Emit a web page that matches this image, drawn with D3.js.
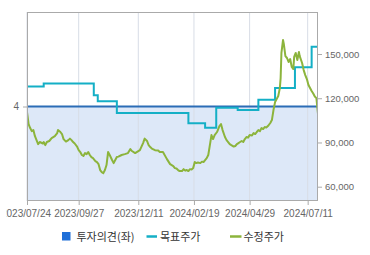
<!DOCTYPE html>
<html><head><meta charset="utf-8">
<script src="https://cdn.jsdelivr.net/npm/d3@7"></script>
<style>body{margin:0;background:#fff}svg{display:block}</style>
</head><body><svg id="c" width="370" height="255"></svg>
<script>
const xTickLabels = ["2023/07/24","2023/09/27","2023/12/11","2024/02/19","2024/04/29","2024/07/11"];
const rightTicks = [60000, 90000, 120000, 150000];
const leftTicks = [4];
const legendLabels = ["투자의견(좌)", "목표주가", "수정주가"];
const dateRange = ["2023-07-24", "2024-07-24"];

const opinion = [["2023-07-24",4],["2024-07-24",4]];

const targetPrice = [
  ["2023-07-24",128000],["2023-08-14",130000],["2023-10-16",122000],["2023-10-21",118000],
  ["2023-11-14",110000],["2024-02-12",103000],["2024-03-04",100000],["2024-03-18",113500],
  ["2024-04-14",112000],["2024-05-10",119000],["2024-05-31",127000],["2024-06-25",141000],
  ["2024-07-16",155000],["2024-07-24",155000]
];

const adjPrice = [
  ["2023-07-24",110600],["2023-07-25",106600],["2023-07-26",102500],["2023-07-28",99800],
  ["2023-07-30",97700],["2023-08-01",98400],["2023-08-03",94300],["2023-08-05",91600],
  ["2023-08-07",88900],["2023-08-09",90300],["2023-08-13",89300],["2023-08-14",90300],
  ["2023-08-16",88200],["2023-08-18",90300],["2023-08-21",91000],["2023-08-24",93000],
  ["2023-08-28",94300],["2023-08-31",96400],["2023-09-01",98400],["2023-09-04",97100],
  ["2023-09-06",95700],["2023-09-08",92300],["2023-09-11",90600],["2023-09-14",91600],
  ["2023-09-16",92600],["2023-09-18",91600],["2023-09-20",90300],["2023-09-22",89300],
  ["2023-09-25",87200],["2023-09-27",84800],["2023-09-29",83500],["2023-10-01",81500],
  ["2023-10-03",80800],["2023-10-05",82800],["2023-10-07",82100],["2023-10-09",83500],
  ["2023-10-11",81500],["2023-10-13",80100],["2023-10-15",79400],["2023-10-18",77400],
  ["2023-10-20",76700],["2023-10-22",75300],["2023-10-24",71300],["2023-10-26",69900],
  ["2023-10-28",69200],["2023-10-30",71300],["2023-11-01",74700],["2023-11-03",83500],
  ["2023-11-05",81500],["2023-11-08",78100],["2023-11-10",76000],["2023-11-12",78100],
  ["2023-11-14",80100],["2023-11-16",80400],["2023-11-20",81500],["2023-11-24",82100],
  ["2023-11-28",82800],["2023-12-01",85500],["2023-12-03",84200],["2023-12-07",82800],
  ["2023-12-09",83500],["2023-12-13",84800],["2023-12-17",89600],["2023-12-19",92600],
  ["2023-12-22",91000],["2023-12-24",88200],["2023-12-26",86900],["2023-12-28",85900],
  ["2024-01-01",84800],["2024-01-05",84500],["2024-01-07",83500],["2024-01-11",83500],
  ["2024-01-16",78700],["2024-01-20",75300],["2024-01-24",74000],["2024-01-26",72600],
  ["2024-01-28",72300],["2024-01-30",71300],["2024-02-01",70600],["2024-02-04",70600],
  ["2024-02-06",71900],["2024-02-08",70900],["2024-02-10",71300],["2024-02-12",70600],
  ["2024-02-14",71900],["2024-02-16",71600],["2024-02-18",72600],["2024-02-20",76700],
  ["2024-02-22",76000],["2024-02-24",76400],["2024-02-27",76000],["2024-02-29",77000],
  ["2024-03-02",76700],["2024-03-04",78100],["2024-03-06",79400],["2024-03-08",81500],
  ["2024-03-10",88200],["2024-03-12",95000],["2024-03-14",92300],["2024-03-16",95000],
  ["2024-03-19",97100],["2024-03-21",99800],["2024-03-22",101100],["2024-03-24",102500],
  ["2024-03-26",98400],["2024-03-29",93700],["2024-03-31",91600],["2024-04-02",90300],
  ["2024-04-04",88900],["2024-04-06",88200],["2024-04-09",87200],["2024-04-11",87600],
  ["2024-04-13",88900],["2024-04-15",89600],["2024-04-17",90300],["2024-04-19",91000],
  ["2024-04-21",90300],["2024-04-23",92300],["2024-04-25",93700],["2024-04-27",93300],
  ["2024-04-29",95000],["2024-05-02",94700],["2024-05-04",96400],["2024-05-06",95700],
  ["2024-05-08",97100],["2024-05-10",98400],["2024-05-12",97700],["2024-05-14",99800],
  ["2024-05-16",99100],["2024-05-18",100500],["2024-05-20",100100],["2024-05-22",101100],
  ["2024-05-25",103200],["2024-05-27",105200],["2024-05-29",112000],["2024-05-31",117400],
  ["2024-06-02",119500],["2024-06-04",121500],["2024-06-06",126900],["2024-06-07",133700],
  ["2024-06-08",150700],["2024-06-10",159500],["2024-06-11",156800],["2024-06-13",148600],
  ["2024-06-15",147300],["2024-06-17",144600],["2024-06-19",146600],["2024-06-21",141200],
  ["2024-06-23",139800],["2024-06-24",148000],["2024-06-26",150700],["2024-06-28",145900],
  ["2024-06-30",151400],["2024-07-01",148600],["2024-07-04",143900],["2024-07-06",139100],
  ["2024-07-08",135700],["2024-07-10",133000],["2024-07-12",129000],["2024-07-14",126900],
  ["2024-07-16",124900],["2024-07-18",123200],["2024-07-20",121200],["2024-07-22",120100],
  ["2024-07-23",114700],["2024-07-24",109300]
];

const W = 370, H = 255;
const m = {top: 12, right: 52, bottom: 54, left: 27};
const svg = d3.select("#c");
const parse = d3.utcParse("%Y-%m-%d");
const parseTick = d3.utcParse("%Y/%m/%d");

const x = d3.scaleUtc().domain(dateRange.map(parse)).range([m.left, W - m.right]);
const yR = d3.scaleLinear().domain([50300, 178500]).range([H - m.bottom, m.top]);
const yL = d3.scaleLinear().domain([0, 8]).range([H - m.bottom, m.top]);

const font = "'Liberation Sans', Arial, sans-serif";
const axisColor = "#aaaaaa";
const labelColor = "#666666";

// background fill below opinion
const area = d3.area().x(d => x(parse(d[0]))).y0(H - m.bottom).y1(d => yL(d[1])).curve(d3.curveStepAfter);
svg.append("path").datum(opinion).attr("d", area).attr("fill", "#dde8f8");

// vertical grid
const tickDates = xTickLabels.map(parseTick);
svg.append("g").selectAll("line").data(tickDates).join("line")
  .attr("x1", d => x(d)).attr("x2", d => x(d))
  .attr("y1", m.top).attr("y2", H - m.bottom)
  .attr("stroke", "#d8dde6").attr("stroke-width", 1);

svg.append("clipPath").attr("id", "pc").append("rect")
  .attr("x", m.left).attr("y", m.top).attr("width", W - m.left - m.right).attr("height", H - m.top - m.bottom);
svg.append("clipPath").attr("id", "xc").append("rect")
  .attr("x", 6.2).attr("y", 0).attr("width", W).attr("height", H);

const g = svg.append("g").attr("clip-path", "url(#pc)");

// opinion line
g.append("path").datum(opinion)
  .attr("d", d3.line().x(d => x(parse(d[0]))).y(d => yL(d[1])).curve(d3.curveStepAfter))
  .attr("fill", "none").attr("stroke", "#2b6cb6").attr("stroke-width", 2);

// target price
g.append("path").datum(targetPrice)
  .attr("d", d3.line().x(d => x(parse(d[0]))).y(d => yR(d[1])).curve(d3.curveStepAfter))
  .attr("fill", "none").attr("stroke", "#14afc6").attr("stroke-width", 2);

// adjusted price
g.append("path").datum(adjPrice)
  .attr("d", d3.line().x(d => x(parse(d[0]))).y(d => yR(d[1])))
  .attr("fill", "none").attr("stroke", "#8cb43c").attr("stroke-width", 2).attr("stroke-linejoin", "round");

// frame
svg.append("rect").attr("x", m.left + 0.5).attr("y", m.top + 0.5)
  .attr("width", W - m.left - m.right - 1).attr("height", H - m.top - m.bottom - 1)
  .attr("fill", "none").attr("stroke", axisColor);

function styleAxis(sel) {
  sel.select(".domain").remove();
  sel.selectAll(".tick line").attr("stroke", axisColor);
  sel.selectAll(".tick text").attr("fill", labelColor).attr("font-family", font);
}

// x axis
svg.append("g").attr("transform", `translate(0,${H - m.bottom})`)
  .attr("clip-path", "url(#xc)")
  .call(d3.axisBottom(x).tickValues(tickDates).tickSize(4).tickPadding(5)
    .tickFormat((d, i) => xTickLabels[i]))
  .call(styleAxis)
  .call(s => s.selectAll(".tick text").attr("font-size", "10px")
    .attr("dx", (d, i) => i === 0 ? -1.5 : 0));

// right axis
svg.append("g").attr("transform", `translate(${W - m.right},0)`)
  .call(d3.axisRight(yR).tickValues(rightTicks).tickSize(4).tickPadding(3).tickFormat(d3.format(",")))
  .call(styleAxis)
  .call(s => s.selectAll(".tick text").attr("font-size", "9.5px"));

// left axis
svg.append("g").attr("transform", `translate(${m.left},0)`)
  .call(d3.axisLeft(yL).tickValues(leftTicks).tickSize(4).tickPadding(4))
  .call(styleAxis)
  .call(s => s.selectAll(".tick text").attr("font-size", "10px"));

// legend
const kfont = "'Noto Sans CJK KR', sans-serif";
const lg = svg.append("g").attr("font-family", kfont).attr("font-size", "11px").attr("fill", "#333");
lg.append("rect").attr("x", 62).attr("y", 232).attr("width", 8.5).attr("height", 8.5).attr("fill", "#1f6fd8");
lg.append("text").attr("x", 76.5).attr("y", 240.5).text(legendLabels[0]);
lg.append("line").attr("x1", 146.5).attr("x2", 157).attr("y1", 236.5).attr("y2", 236.5).attr("stroke", "#14afc6").attr("stroke-width", 2.5);
lg.append("text").attr("x", 160).attr("y", 240.5).text(legendLabels[1]);
lg.append("line").attr("x1", 230).attr("x2", 241.5).attr("y1", 236.5).attr("y2", 236.5).attr("stroke", "#8cb43c").attr("stroke-width", 2.5);
lg.append("text").attr("x", 243.5).attr("y", 240.5).text(legendLabels[2]);
</script></body></html>
